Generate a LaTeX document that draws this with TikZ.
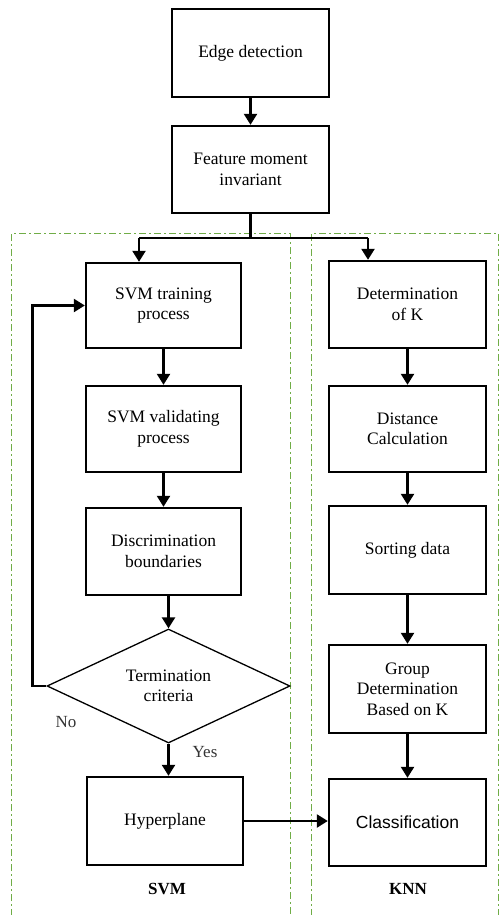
\documentclass[tikz,border=0pt]{standalone}
\usepackage{fontspec}
\setmainfont{Liberation Serif}
\newfontfamily\sansf{Liberation Sans}
\usetikzlibrary{arrows.meta,shapes.geometric}
\definecolor{dashgreen}{RGB}{112,173,71}
\begin{document}
\begin{tikzpicture}[x=1pt,y=-1pt,
  box/.style={draw,line width=2.4pt,align=center,inner sep=2pt,
    minimum width=155pt,minimum height=86pt,
    font=\fontsize{17.5}{20.5}\selectfont},
  arr/.style={line width=2.4pt,-{Triangle[length=11pt,width=13pt]}},
  plain/.style={line width=2.4pt},
  region/.style={draw=dashgreen,line width=1pt,dash pattern=on 7pt off 3pt on 2pt off 3pt},
  lbl/.style={font=\fontsize{17}{20}\selectfont,text=black!80},
  title/.style={font=\fontsize{17}{20}\selectfont\bfseries}]
\useasboundingbox (0,0) rectangle (499,915);
% regions
\draw[region] (11.5,916) -- (11.5,233.5) -- (290.5,233.5) -- (290.5,916);
\draw[region] (311.5,916) -- (311.5,233.5) -- (498.5,233.5) -- (498.5,916);
% nodes
\node[box,minimum width=157pt,minimum height=88pt] (edge) at (250.5,53) {Edge detection};
\node[box,minimum width=157pt,minimum height=87pt] (feat) at (250.5,169.5) {Feature moment\\invariant};
\node[box,minimum height=85pt] (train) at (163.5,305.5) {SVM training\\process};
\node[box] (valid) at (163.5,429) {SVM validating\\process};
\node[box,minimum height=87pt] (disc) at (163.5,551.5) {Discrimination\\boundaries};
\node[draw,diamond,line width=1.3pt,aspect=2.13,inner sep=0pt,
  minimum width=243pt,minimum height=114pt,align=center,
  font=\fontsize{17.5}{20.5}\selectfont] (dia) at (168.5,686) {Termination\\criteria};
\node[box,minimum width=156pt,minimum height=88pt] (hyper) at (165,821) {Hyperplane};
\node[box,minimum width=157pt,minimum height=87pt] (detk) at (407.5,304.5) {Determination\\of K};
\node[box,minimum width=157pt] (dist) at (407.5,429) {Distance\\Calculation};
\node[box,minimum width=157pt,minimum height=88pt] (sort) at (407.5,550) {Sorting data};
\node[box,minimum width=157pt,minimum height=88pt] (group) at (407.5,689) {Group\\Determination\\Based on K};
\node[box,minimum width=157pt,minimum height=87pt,font=\fontsize{17.5}{20}\selectfont\sansf] (class) at (407.5,822.5) {Classification};
% labels
\node[lbl] (no) at (66,722) {No};
\node[lbl] (yes) at (205,752) {Yes};
\node[title] (svm) at (167,889) {SVM};
\node[title] (knn) at (408,889) {KNN};
% connectors
\coordinate (sl) at (139,238);
\coordinate (sr) at (368,238);
\draw[arr] (edge) -- (feat);
\draw[plain] (feat.south) -- (feat.south |- sl);
\draw[plain] (sl) -- (sr);
\draw[arr] (sl) -- (sl |- train.north);
\draw[arr] (sr) -- (sr |- detk.north);
\draw[arr] (train) -- (valid);
\draw[arr] (valid) -- (disc);
\draw[arr] (dia.north |- disc.south) -- (dia.north);
\draw[arr] (dia.south) -- (dia.south |- hyper.north);
\draw[arr] (dia.west) -- ++(-14,0) |- (train.west);
\draw[arr] (hyper.east) -- (hyper.east -| class.west);
\draw[arr] (detk) -- (dist);
\draw[arr] (dist) -- (sort);
\draw[arr] (sort) -- (group);
\draw[arr] (group) -- (class);
\end{tikzpicture}
\end{document}
